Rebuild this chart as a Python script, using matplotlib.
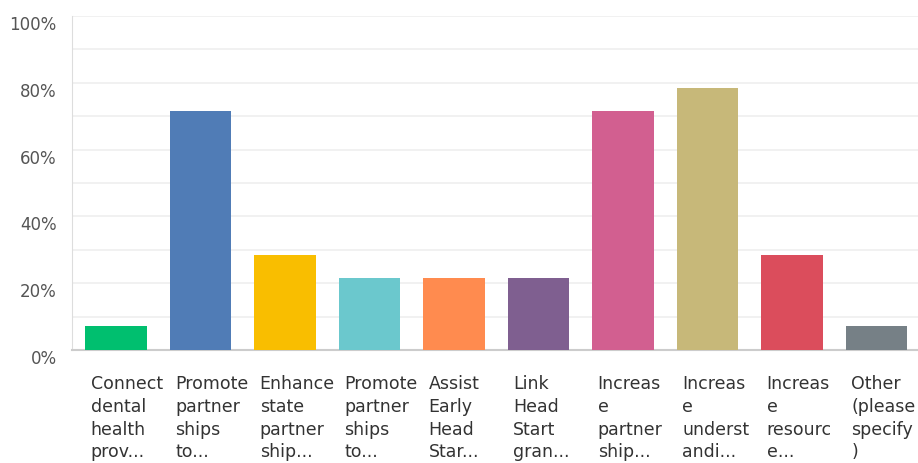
import matplotlib
matplotlib.use("Agg")
import matplotlib.pyplot as plt
import matplotlib.transforms as mtransforms

# survey answers and share of respondents (%)
labels = [
    "Connect\ndental\nhealth\nprov...",
    "Promote\npartner\nships\nto...",
    "Enhance\nstate\npartner\nship...",
    "Promote\npartner\nships\nto...",
    "Assist\nEarly\nHead\nStar...",
    "Link\nHead\nStart\ngran...",
    "Increas\ne\npartner\nship...",
    "Increas\ne\nunderst\nandi...",
    "Increas\ne\nresourc\ne...",
    "Other\n(please\nspecify\n)",
]
values = [7.14, 71.43, 28.57, 21.43, 21.43, 21.43, 71.43, 78.57, 28.57, 7.14]
colors = ["#00BF6F", "#507CB6", "#F9BE00", "#6BC8CD", "#FF8B4F",
          "#7F5F90", "#D25F90", "#C7B879", "#DB4D5C", "#768086"]
yticks = [0, 20, 40, 60, 80, 100]

plt.rcParams['font.family'] = ['DejaVu Sans']

fig = plt.figure(figsize=(9.18, 4.64), dpi=100)
ax = fig.add_axes([72 / 918, 1 - 351 / 464, 1 - 72 / 918, (351 - 17) / 464])

x = range(len(values))
ax.bar(x, values, width=0.73, color=colors, zorder=3)

ax.set_xlim(-0.52, 9.49)
ax.set_ylim(0, 100)

# light grid every 10%
for g in range(10, 101, 10):
    ax.axhline(g, color="#efefef", lw=1.2, zorder=1)

ax.set_yticks(yticks)
ax.set_yticklabels([f"{t}%" for t in yticks], fontsize=12, color="#555555")
ax.tick_params(axis="y", length=0, pad=11)
ax.set_xticks([])
# shift y tick labels slightly below their grid line like the original
offset = mtransforms.ScaledTranslation(0, -6 / 100, fig.dpi_scale_trans)
for lab in ax.get_yticklabels():
    lab.set_transform(lab.get_transform() + offset)

for side in ["top", "right"]:
    ax.spines[side].set_visible(False)
ax.spines["left"].set_color("#dddddd")
ax.spines["bottom"].set_color("#cccccc")
ax.spines["bottom"].set_linewidth(1.5)

trans = mtransforms.blended_transform_factory(ax.transData, ax.transAxes)
for i, lab in enumerate(labels):
    ax.text(i - 0.30, -0.072, lab, transform=trans, ha="left", va="top",
            fontsize=12.5, color="#333333", linespacing=1.34)

fig.savefig("out.png", dpi=100)
